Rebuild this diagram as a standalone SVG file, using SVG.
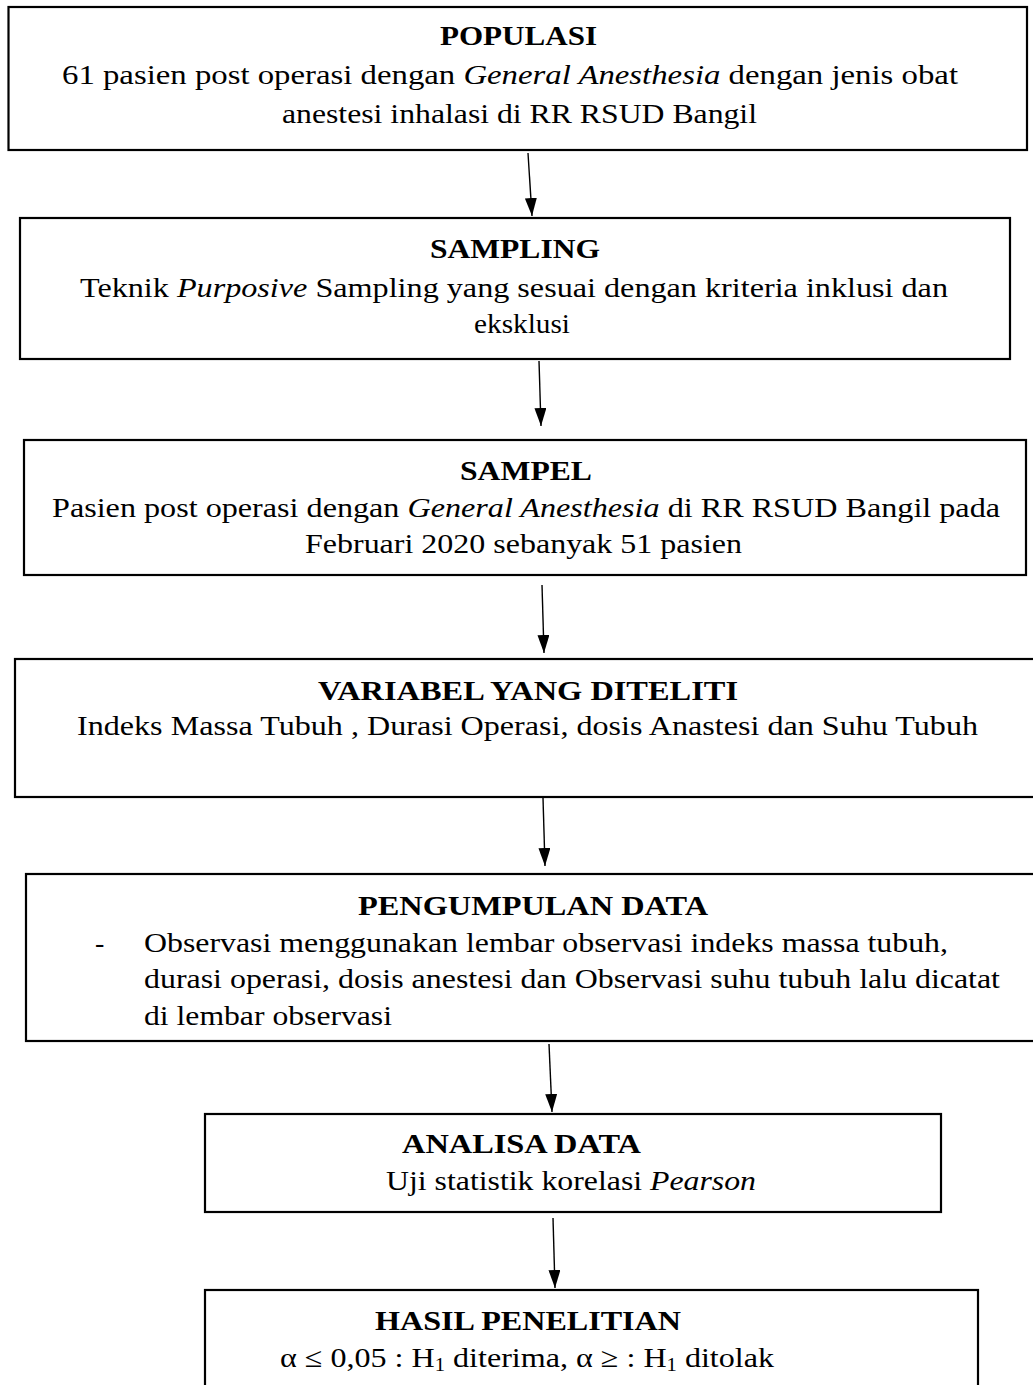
<svg xmlns="http://www.w3.org/2000/svg" width="1033" height="1385" viewBox="0 0 1033 1385">
<style>
.box{fill:#fff;stroke:#000;stroke-width:2.2}
text{font-family:"Liberation Serif","Times New Roman",serif;font-size:28px;fill:#000}
.t{font-weight:bold}
.i{font-style:italic}
.conn{stroke:#000;stroke-width:1.4;fill:none}
</style>
<defs>
<marker id="arr" markerWidth="18" markerHeight="12" refX="18" refY="6" orient="auto" markerUnits="userSpaceOnUse" viewBox="0 0 18 12">
<path d="M0,0 L18,6 L0,12 Z" fill="#000"/>
</marker>
</defs>
<rect width="1033" height="1385" fill="#fff"/>
<g id="connectors">
<line class="conn" x1="528" y1="153" x2="532" y2="216" marker-end="url(#arr)"/>
<line class="conn" x1="539" y1="361" x2="541" y2="426" marker-end="url(#arr)"/>
<line class="conn" x1="542" y1="585" x2="544" y2="653" marker-end="url(#arr)"/>
<line class="conn" x1="543" y1="798" x2="545" y2="866" marker-end="url(#arr)"/>
<line class="conn" x1="549" y1="1044" x2="552" y2="1112" marker-end="url(#arr)"/>
<line class="conn" x1="553" y1="1218" x2="555" y2="1288" marker-end="url(#arr)"/>
</g>
<g id="populasi">
<rect class="box" x="8.5" y="7" width="1018.5" height="143"/>
<text class="t" x="440" y="45" textLength="157" lengthAdjust="spacingAndGlyphs">POPULASI</text>
<text x="62" y="84" textLength="896" lengthAdjust="spacingAndGlyphs">61 pasien post operasi dengan <tspan class="i">General Anesthesia</tspan> dengan jenis obat</text>
<text x="282" y="123" textLength="475" lengthAdjust="spacingAndGlyphs">anestesi inhalasi di RR RSUD Bangil</text>
</g>
<g id="sampling">
<rect class="box" x="20" y="218" width="990" height="141"/>
<text class="t" x="430" y="258" textLength="170" lengthAdjust="spacingAndGlyphs">SAMPLING</text>
<text x="80" y="297" textLength="868" lengthAdjust="spacingAndGlyphs">Teknik <tspan class="i">Purposive</tspan> Sampling yang sesuai dengan kriteria inklusi dan</text>
<text x="474" y="333" textLength="96" lengthAdjust="spacingAndGlyphs">eksklusi</text>
</g>
<g id="sampel">
<rect class="box" x="24" y="440" width="1002" height="135"/>
<text class="t" x="460" y="480" textLength="132" lengthAdjust="spacingAndGlyphs">SAMPEL</text>
<text x="52" y="517" textLength="948" lengthAdjust="spacingAndGlyphs">Pasien post operasi dengan <tspan class="i">General Anesthesia</tspan> di RR RSUD Bangil pada</text>
<text x="305" y="553" textLength="437" lengthAdjust="spacingAndGlyphs">Februari 2020 sebanyak 51 pasien</text>
</g>
<g id="variabel">
<rect class="box" x="15" y="659" width="1030" height="138"/>
<text class="t" x="318" y="700" textLength="420" lengthAdjust="spacingAndGlyphs">VARIABEL YANG DITELITI</text>
<text x="77" y="735" textLength="901" lengthAdjust="spacingAndGlyphs">Indeks Massa Tubuh , Durasi Operasi, dosis Anastesi dan Suhu Tubuh</text>
</g>
<g id="pengumpulan">
<rect class="box" x="26" y="874" width="1020" height="167"/>
<text class="t" x="358" y="915" textLength="350" lengthAdjust="spacingAndGlyphs">PENGUMPULAN DATA</text>
<text x="95" y="952">-</text>
<text x="144" y="952" textLength="804" lengthAdjust="spacingAndGlyphs">Observasi menggunakan lembar observasi indeks massa tubuh,</text>
<text x="144" y="988" textLength="856" lengthAdjust="spacingAndGlyphs">durasi operasi, dosis anestesi dan Observasi suhu tubuh lalu dicatat</text>
<text x="144" y="1025" textLength="248" lengthAdjust="spacingAndGlyphs">di lembar observasi</text>
</g>
<g id="analisa">
<rect class="box" x="205" y="1114" width="736" height="98"/>
<text class="t" x="402" y="1153" textLength="239" lengthAdjust="spacingAndGlyphs">ANALISA DATA</text>
<text x="386" y="1190" textLength="370" lengthAdjust="spacingAndGlyphs">Uji statistik korelasi <tspan class="i">Pearson</tspan></text>
</g>
<g id="hasil">
<rect class="box" x="205" y="1290" width="773" height="110"/>
<text class="t" x="375" y="1330" textLength="306" lengthAdjust="spacingAndGlyphs">HASIL PENELITIAN</text>
<text x="280" y="1367" textLength="494" lengthAdjust="spacingAndGlyphs">α ≤ 0,05 : H<tspan font-size="18" dy="4">1</tspan><tspan dy="-4"> diterima, α ≥ : H</tspan><tspan font-size="18" dy="4">1</tspan><tspan dy="-4"> ditolak</tspan></text>
</g>
</svg>
